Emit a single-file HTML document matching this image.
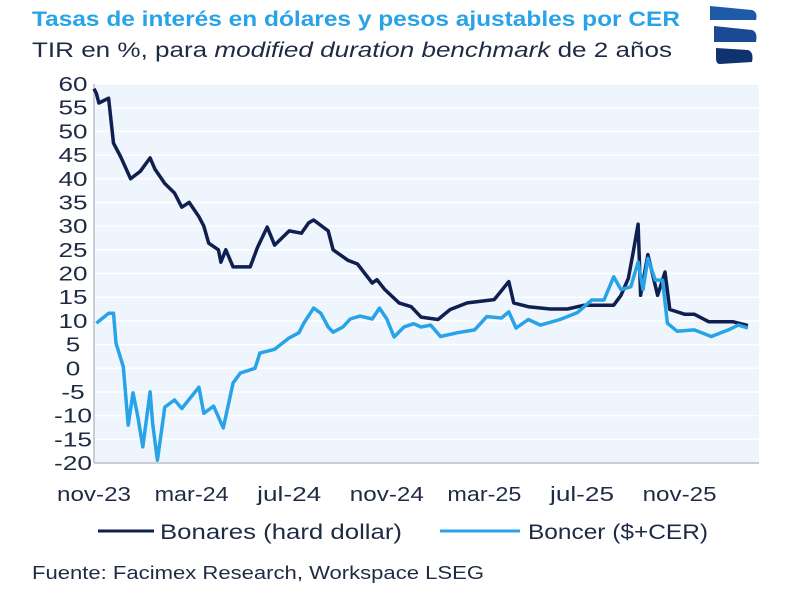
<!DOCTYPE html>
<html><head><meta charset="utf-8"><style>
body{margin:0;background:#fff;width:800px;height:594px;overflow:hidden;font-family:"Liberation Sans",sans-serif}
</style></head><body>
<svg id="c" width="800" height="594">
<text x="32" y="26" font-size="21" font-weight="bold" fill="#29a3e8" textLength="648" lengthAdjust="spacingAndGlyphs">Tasas de interés en dólares y pesos ajustables por CER</text>
<text x="32" y="57" font-size="21" fill="#1f2a44" textLength="640" lengthAdjust="spacingAndGlyphs">TIR en %, para <tspan font-style="italic">modified duration benchmark</tspan> de 2 años</text>
<g>
<path d="M710 6 L752 10 Q758 12 756 20 L710 20 Z" fill="#1e5aa8"/>
<path d="M714 26 L752 30 Q758 32 756 42 L714 42 Z" fill="#1a4a94"/>
<path d="M716 48 L748 50 Q754 52 752 62 L720 64 Q716 64 716 58 Z" fill="#10326e"/>
</g>
<rect x="94" y="84" width="665" height="379" fill="#eef5fc"/>
<g id="grid"></g><g id="yt"></g><g id="xt"></g>
<line x1="94" y1="84" x2="94" y2="463" stroke="#b8bfc9" stroke-width="1.5"/>
<line x1="94" y1="463" x2="759" y2="463" stroke="#b8bfc9" stroke-width="1.5"/>
<path id="dark" fill="none" stroke="#0f1f4f" stroke-width="3.5" stroke-linejoin="round"/>
<path id="light" fill="none" stroke="#29a3e8" stroke-width="3.5" stroke-linejoin="round"/>
<g>
<line x1="98" y1="531" x2="154" y2="531" stroke="#0f1f4f" stroke-width="3"/>
<text x="160" y="539" font-size="21" fill="#1f2a44" textLength="242" lengthAdjust="spacingAndGlyphs">Bonares (hard dollar)</text>
<line x1="440" y1="531" x2="520" y2="531" stroke="#29a3e8" stroke-width="3"/>
<text x="528" y="539" font-size="21" fill="#1f2a44" textLength="180" lengthAdjust="spacingAndGlyphs">Boncer ($+CER)</text>
</g>
<text x="32" y="579" font-size="18" fill="#1f2a44" textLength="452" lengthAdjust="spacingAndGlyphs">Fuente: Facimex Research, Workspace LSEG</text>
</svg>
<script>
const yTicks=[60,55,50,45,40,35,30,25,20,15,10,5,0,-5,-10,-15,-20];
const xTickLabels=["nov-23","mar-24","jul-24","nov-24","mar-25","jul-25","nov-25"];
const xTickMonths=[0,4,8,12,16,20,24];
const bonT=[0,0.1,0.2,0.6,0.8,1.1,1.5,1.9,2.3,2.5,2.9,3.3,3.6,3.9,4.3,4.5,4.7,5.1,5.2,5.4,5.7,6.4,6.7,7.1,7.4,8.0,8.5,8.8,9.0,9.6,9.8,10.4,10.8,11.4,11.6,11.9,12.5,13.0,13.4,14.1,14.6,15.3,16.4,17.0,17.2,17.8,18.7,19.4,20.1,20.8,21.3,21.6,21.9,22.1,22.3,22.4,22.7,23.1,23.4,23.6,24.2,24.6,25.2,26.2,26.8];
const bonV=[59,58,56,57,47.5,44.6,40,41.6,44.4,42,39,37,34,35,32,30,26.4,25,22.4,25,21.4,21.4,25.5,29.8,26,29,28.5,30.7,31.3,29,25,22.8,22,18,18.7,16.7,13.8,13,10.8,10.3,12.4,13.8,14.5,18.3,13.8,13,12.5,12.5,13.3,13.3,13.3,15.4,19,24.5,30.4,15.4,24,15.4,20.3,12.4,11.4,11.4,9.8,9.8,9];
const bocT=[0.1,0.6,0.8,0.9,1.2,1.4,1.6,1.8,2.0,2.3,2.4,2.6,2.9,3.3,3.6,4.3,4.5,4.9,5.3,5.7,6.0,6.6,6.8,7.4,8.0,8.4,8.6,9.0,9.3,9.6,9.8,10.2,10.5,10.9,11.4,11.7,12.0,12.3,12.7,13.1,13.4,13.8,14.2,14.9,15.6,16.1,16.7,17.0,17.3,17.8,18.3,19.1,19.8,20.4,20.9,21.3,21.6,22.0,22.3,22.5,22.7,23.0,23.3,23.5,23.9,24.6,25.3,26.0,26.4,26.8];
const bocV=[9.5,11.6,11.6,5.3,0.3,-12,-5.2,-10.3,-16.6,-5,-11.6,-19.4,-8.2,-6.7,-8.5,-4,-9.5,-8,-12.6,-3.1,-1,0,3.2,4,6.4,7.5,9.5,12.7,11.6,8.7,7.6,8.7,10.4,11,10.4,12.7,10.4,6.6,8.7,9.4,8.7,9.1,6.7,7.5,8.1,10.9,10.6,11.9,8.5,10.3,9.1,10.3,11.7,14.4,14.4,19.3,16.6,17.2,22.4,16.6,23.2,18.6,18.6,9.5,7.8,8.1,6.7,8.1,9.1,8.5];
const X=m=>94+m*24.4, Y=v=>84+(60-v)*379/80;
const NS="http://www.w3.org/2000/svg";
const grid=document.getElementById('grid'),yt=document.getElementById('yt'),xt=document.getElementById('xt');
yTicks.forEach(v=>{
 const l=document.createElementNS(NS,'line');
 l.setAttribute('x1',95);l.setAttribute('x2',759);l.setAttribute('y1',Y(v));l.setAttribute('y2',Y(v));
 l.setAttribute('stroke','#ffffff');l.setAttribute('stroke-width','1.5');
 
 
 grid.appendChild(l);
 const s=String(v), digits=s.replace('-','').length;
 const t=document.createElementNS(NS,'text');
 t.setAttribute('x',73);t.setAttribute('y',Y(v)+7);t.setAttribute('text-anchor','middle');
 t.setAttribute('font-size','20');t.setAttribute('fill','#1f2a44');t.textContent=s;
 t.setAttribute('textLength',digits*14.5+(v<0?9:0));t.setAttribute('lengthAdjust','spacingAndGlyphs');
 
 
 yt.appendChild(t);
});
xTickLabels.forEach((s,i)=>{
 const t=document.createElementNS(NS,'text');
 t.setAttribute('x',X(xTickMonths[i]));t.setAttribute('y',501);t.setAttribute('text-anchor','middle');
 t.setAttribute('font-size','20');t.setAttribute('fill','#1f2a44');t.textContent=s;
 t.setAttribute('textLength',s.startsWith('jul')?64:74);t.setAttribute('lengthAdjust','spacingAndGlyphs');
 
 
 xt.appendChild(t);
});
const path=(T,V)=>T.map((t,i)=>(i?'L':'M')+X(t).toFixed(1)+' '+Y(V[i]).toFixed(1)).join(' ');
document.getElementById('dark').setAttribute('d',path(bonT,bonV));
document.getElementById('light').setAttribute('d',path(bocT,bocV));
</script>
</body></html>
